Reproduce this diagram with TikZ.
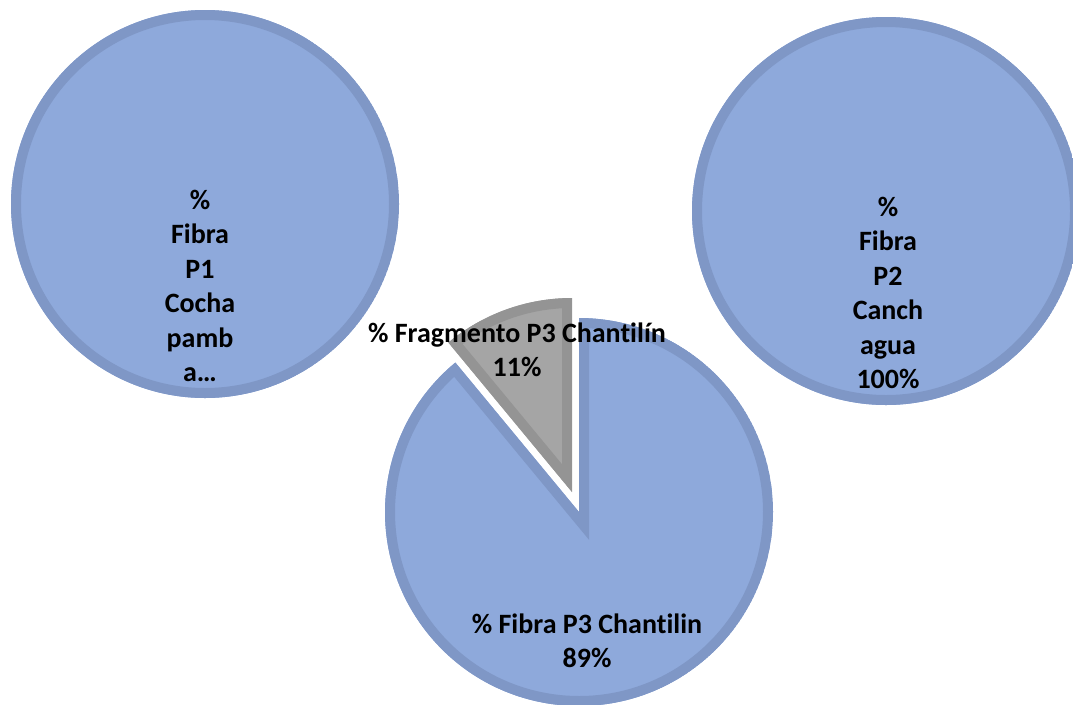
\documentclass[tikz,border=0pt]{standalone}
\usepackage{fontspec}
\setmainfont{Carlito}[Ligatures=NoCommon]
\definecolor{slice blue}{HTML}{8EA9DB}
\definecolor{edge blue}{HTML}{7F97C6}
\definecolor{slice gray}{HTML}{A5A5A5}
\definecolor{edge gray}{HTML}{949494}

\begin{document}
\begin{tikzpicture}[x=0.75pt, y=-0.75pt, pie label/.style={font=\bfseries\fontsize{21}{25.9}\selectfont, align=center, inner sep=0pt}, blue part/.style={fill=slice blue, draw=edge blue, line width=15pt}, gray part/.style={fill=slice gray, draw=edge gray, line width=15pt}]
\useasboundingbox (0,0) rectangle (1073,704);
% P1 and P2: whole pies
\begin{scope}
  \clip (205,204) circle (194);
  \draw[blue part] (205,204) circle (194);
\end{scope}
\begin{scope}
  \clip (886,211) circle (194);
  \draw[blue part] (886,211) circle (194);
\end{scope}
% P3: fibra slice and exploded fragmento slice
\begin{scope}
  \clip (579,512) -- ++(-129.6:194) arc[start angle=-129.6, end angle=-450, radius=194] -- cycle;
  \draw[blue part] (579,512) -- ++(-129.6:194) arc[start angle=-129.6, end angle=-450, radius=194] -- cycle;
\end{scope}
\begin{scope}
  \clip (572,492) -- ++(-90:194) arc[start angle=-90, end angle=-129.6, radius=194] -- cycle;
  \draw[gray part] (572,492) -- ++(-90:194) arc[start angle=-90, end angle=-129.6, radius=194] -- cycle;
\end{scope}
\node[pie label] (p1 label) at (200,286) {\%\\Fibra\\P1\\Cocha\\pamb\\a…};
\node[pie label] (p2 label) at (888,293) {\%\\Fibra\\P2\\Canch\\agua\\100\%};
\node[pie label] (fragmento label) at (517,350) {\% Fragmento P3 Chantilín\\11\%};
\node[pie label] (p3 label) at (587,641) {\% Fibra P3 Chantilin\\89\%};
\end{tikzpicture}
\end{document}
